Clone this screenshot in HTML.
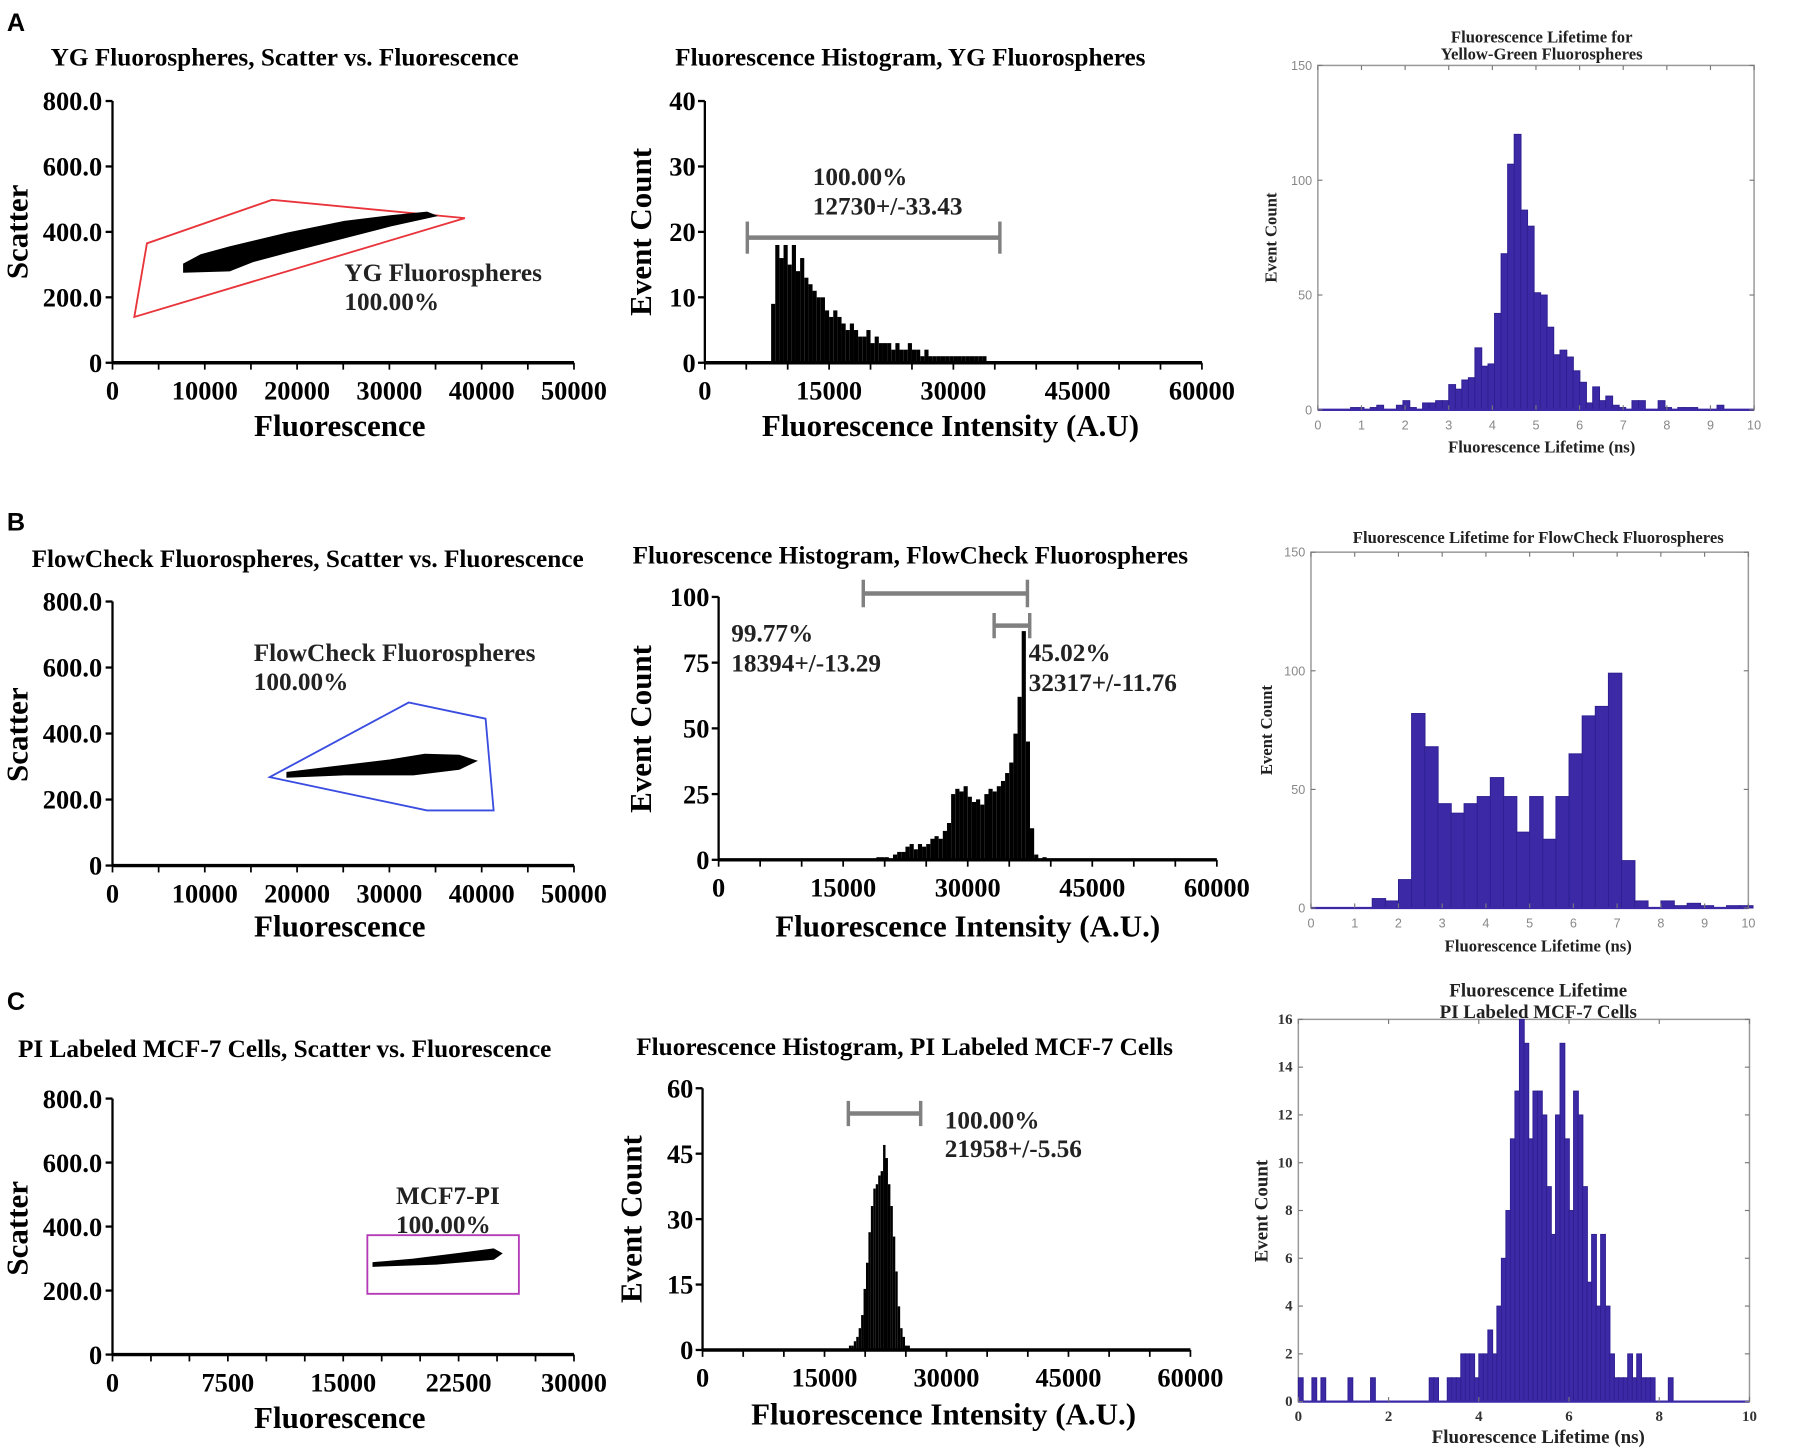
<!DOCTYPE html>
<html><head><meta charset="utf-8"><style>
html,body{margin:0;padding:0;background:#fff;}
svg{display:block;}
</style></head><body>
<svg id="fig" xmlns="http://www.w3.org/2000/svg" width="1800" height="1451" viewBox="0 0 1568 1264" preserveAspectRatio="none"></svg>
<script>
// ---------- DATA ----------
const cloudAx=[7711,9577,12687,18905,25124,30100,34080,35075,30100,25124,18905,15174,12687,7711];
const cloudAy=[302,330,354,396,432,449,460,449,418,382,337,309,281,277];
const gateAx=[2363,3731,17289,38184];
const gateAy=[140,365,498,442];
const histAStart=8000, histAWidth=500;
const histAVals=[9,18,16,18,15,18,14,16,13,12,11,10,10,8,7,8,7,6,5,6,5,4,4,5,3,4,3,3,3,2,3,2,2,3,2,2,1,2,1,1,1,1,1,1,1,1,1,1,1,1,1,1];
const lifeAStart=0.75, lifeAWidth=0.15;
const lifeAVals=[1,1,0,1,2,0,0,2,4,1,0,3,3,4,4,11,9,13,14,27,19,20,42,68,107,120,87,80,51,50,36,24,26,23,17,12,3,10,4,6,2,1,0,4,4,0,0,4,1,0,1,1,1,0,0,0,2,0];
const cloudBx=[18905,23881,30100,33831,37562,39428,37562,32587,25124,18905];
const cloudBy=[282,299,320,337,334,317,292,275,275,268];
const gateBx=[17040,32090,40423,41294,34080];
const gateBy=[268,494,445,167,167];
const histBStart=19000, histBWidth=500;
const histBVals=[1,1,1,0,2,3,3,5,6,4,6,5,6,8,9,8,11,14,25,27,26,28,24,22,23,21,25,27,26,28,30,33,37,48,62,87,45,12,2,0,1];
const lifeBStart=0.2, lifeBWidth=0.3;
const lifeBVals=[0,0,0,0,4,3,12,82,68,44,40,44,47,55,47,32,47,29,47,65,81,85,99,20,3,0,3,1,2,1,0,1,1];
const cloudCx=[16940,19552,22537,24776,25299,24776,21045,16940];
const cloudCy=[287,298,316,330,316,298,283,276];
const gateCx=[16567,26418];
const gateCy=[190,373];
const histCStart=18000, histCWidth=300;
const histCVals=[1,1,2,3,5,8,14,20,27,33,37,38,40,41,47,44,38,33,26,18,10,5,3,1,1];
const lifeCStart=0, lifeCWidth=0.1;
const lifeCVals=[1,0,0,1,0,1,0,0,0,0,0,1,0,0,0,0,1,0,0,0,0,0,0,0,0,0,0,0,0,1,1,0,0,1,1,1,2,2,2,1,2,2,3,2,4,6,8,11,13,16,15,11,13,13,12,9,7,12,15,11,8,13,12,9,5,7,4,7,4,2,1,1,1,2,1,2,1,1,1,0,0,0,1];
const scatYLabels=["0","200.0","400.0","600.0","800.0"];
const scatYVals=[0,200,400,600,800];
const scatABXTicks=[0,10000,20000,30000,40000,50000];
const scatCXTicks=[0,7500,15000,22500,30000];
const histXTicks=[0,15000,30000,45000,60000];
const histAYTicks=[0,10,20,30,40];
const histBYTicks=[0,25,50,75,100];
const histCYTicks=[0,15,30,45,60];
const lifeABXTicks=[0,1,2,3,4,5,6,7,8,9,10];
const lifeABYTicks=[0,50,100,150];
const lifeCXTicks=[0,2,4,6,8,10];
const lifeCYTicks=[0,2,4,6,8,10,12,14,16];

// ---------- DRAW ----------
const NS="http://www.w3.org/2000/svg";
const fig=document.getElementById('fig');
const SERIF='"Liberation Serif", serif', SANS='"Liberation Sans", sans-serif';
const BLUE='#3b29a6';
function mk(tag,attrs,name,parent){
  const el=document.createElementNS(NS,tag);
  for(const k in attrs) el.setAttribute(k,attrs[k]);
  
  
  (parent||fig).appendChild(el);
  return el;
}
function txt(x,y,s,size,name,o){
  o=o||{};
  const a={x:x,y:y,'font-size':size,'font-family':o.fam||SERIF,'font-weight':o.w||'bold',fill:o.fill||'#000','text-anchor':o.anchor||'start'};
  if(o.rot) a.transform='rotate(-90 '+x+' '+y+')';
  const t=mk('text',a,name,o.parent);
  t.textContent=s;
  return t;
}
function lin(x1,y1,x2,y2,stroke,w,name,g){return mk('line',{x1:x1,y1:y1,x2:x2,y2:y2,stroke:stroke,'stroke-width':w},name,g);}
function scale(d0,d1,p0,p1){return v=>p0+(v-d0)/(d1-d0)*(p1-p0);}

function scatterPanel(c){
  const g=mk('g',{},c.id);
  const sx=scale(0,c.xmax,c.x0,c.x1), sy=scale(0,800,c.yb,c.yt);
  txt(c.tx,c.ty,c.title,22,'scatter-title',{anchor:'middle',parent:g});
  lin(c.x0,c.yt,c.x0,c.yb,'#000',2,'y-axis-line',g);
  lin(c.x0,c.yb,c.x1,c.yb,'#000',3,'x-axis-line',g);
  scatYVals.forEach((v,i)=>{
    lin(c.x0-6,sy(v),c.x0,sy(v),'#000',2,'y-tick',g);
    txt(c.x0-9,sy(v)+8,scatYLabels[i],23,'y-tick-label',{anchor:'end',parent:g});
  });
  for(let v=0;v<=c.xmax;v+=c.minor) lin(sx(v),c.yb,sx(v),c.yb+6,'#000',1.5,'x-tick',g);
  c.xt.forEach(v=>txt(sx(v),c.yb+32,String(v),23,'x-tick-label',{anchor:'middle',parent:g}));
  txt(c.xlx,c.xly,'Fluorescence',27,'x-axis-title',{anchor:'middle',parent:g});
  txt(c.ylx,c.yly,'Scatter',27,'y-axis-title',{anchor:'middle',rot:true,parent:g});
  let pts;
  if(c.rect){ pts=[[c.gx[0],c.gy[0]],[c.gx[1],c.gy[0]],[c.gx[1],c.gy[1]],[c.gx[0],c.gy[1]]]; }
  else pts=c.gx.map((v,i)=>[v,c.gy[i]]);
  mk('polygon',{points:pts.map(p=>sx(p[0])+','+sy(p[1])).join(' '),fill:'none',stroke:c.gateColor,'stroke-width':1.6},'gate-polygon',g);
  mk('polygon',{points:c.cx.map((v,i)=>sx(v)+','+sy(c.cy[i])).join(' '),fill:'#000',stroke:'#000','stroke-width':1},'scatter-cloud',g);
  txt(c.lbx,c.lby,c.lab1,22,'gate-label',{parent:g,fill:'#222'});
  txt(c.lbx,c.lby+25,'100.00%',22,'gate-percent',{parent:g,fill:'#222'});
}
function histPanel(c){
  const g=mk('g',{},c.id);
  const sx=scale(0,60000,c.x0,c.x1), sy=scale(0,c.ymax,c.yb,c.yt);
  txt(c.tx,c.ty,c.title,22,'histogram-title',{anchor:'middle',parent:g});
  c.vals.forEach((v,i)=>{
    const xa=sx(c.start+i*c.width), xb=sx(c.start+(i+1)*c.width);
    mk('rect',{x:xa,y:sy(v),width:Math.max(xb-xa,0.5),height:c.yb-sy(v),fill:'#000'},'histogram-bar',g);
  });
  lin(c.x0,c.yt,c.x0,c.yb,'#000',2,'y-axis-line',g);
  lin(c.x0,c.yb,c.x1,c.yb,'#000',3,'x-axis-line',g);
  c.yticks.forEach(v=>{
    lin(c.x0-6,sy(v),c.x0,sy(v),'#000',2,'y-tick',g);
    txt(c.x0-8,sy(v)+8,String(v),23,'y-tick-label',{anchor:'end',parent:g});
  });
  for(let v=0;v<=60000;v+=5000) lin(sx(v),c.yb,sx(v),c.yb+6,'#000',1.5,'x-tick',g);
  histXTicks.forEach(v=>txt(sx(v),c.yb+32,String(v),23,'x-tick-label',{anchor:'middle',parent:g}));
  txt(c.xlx,c.xly,c.xlabel,27,'x-axis-title',{anchor:'middle',parent:g});
  txt(c.ylx,c.yly,'Event Count',27,'y-axis-title',{anchor:'middle',rot:true,parent:g});
  c.gates.forEach(gt=>{
    lin(gt[0],gt[2],gt[1],gt[2],'#808080',4,'gate-bar',g);
    lin(gt[0],gt[2]-gt[3],gt[0],gt[2]+gt[3],'#808080',3,'gate-end',g);
    lin(gt[1],gt[2]-gt[3],gt[1],gt[2]+gt[3],'#808080',3,'gate-end',g);
  });
  c.labels.forEach(l=>txt(l[0],l[1],l[2],22,'gate-stat-label',{parent:g,fill:'#222'}));
}
function lifePanel(c){
  const g=mk('g',{},c.id);
  const sx=scale(0,c.xmax,c.x0,c.x1), sy=scale(0,c.ymax,c.yb,c.yt);
  mk('rect',{x:c.x0,y:c.yt,width:c.x1-c.x0,height:c.yb-c.yt,fill:'#fff',stroke:'#999','stroke-width':1.3},'plot-frame',g);
  c.vals.forEach((v,i)=>{
    if(v<=0) return;
    const xa=sx(c.start+i*c.width), xb=sx(c.start+(i+1)*c.width);
    mk('rect',{x:xa,y:sy(v),width:xb-xa+0.3,height:c.yb-sy(v),fill:BLUE,stroke:'#2d1f90','stroke-width':0.8},'lifetime-bar',g);
  });
  lin(c.x0,c.yb,c.x1,c.yb,BLUE,2,'baseline',g);
  const tf=c.boldTicks?{fam:SERIF,w:'bold',fill:'#333'}:{fam:SANS,w:'normal',fill:'#888'};
  c.xt.forEach(v=>{
    lin(sx(v),c.yb,sx(v),c.yb-4,'#777',1,'x-tick',g);
    lin(sx(v),c.yt,sx(v),c.yt+4,'#777',1,'x-tick-top',g);
    txt(sx(v),c.yb+17,String(v),c.ts,'x-tick-label',Object.assign({anchor:'middle',parent:g},tf));
  });
  c.yt2.forEach(v=>{
    lin(c.x0,sy(v),c.x0+4,sy(v),'#777',1,'y-tick',g);
    lin(c.x1,sy(v),c.x1-4,sy(v),'#777',1,'y-tick-right',g);
    txt(c.x0-5,sy(v)+4,String(v),c.ts,'y-tick-label',Object.assign({anchor:'end',parent:g},tf));
  });
  c.titles.forEach(t=>txt(t[0],t[1],t[2],c.fs,'lifetime-title',{anchor:'middle',parent:g,fill:'#222'}));
  txt(c.xlx,c.xly,'Fluorescence Lifetime (ns)',c.fs,'x-axis-title',{anchor:'middle',parent:g,fill:'#222'});
  txt(c.ylx,c.yly,'Event Count',c.fs,'y-axis-title',{anchor:'middle',rot:true,parent:g,fill:'#222'});
}

txt(6,27,'A',22,'panel-label-a',{fam:SANS});
txt(6,462,'B',22,'panel-label-b',{fam:SANS});
txt(6,880,'C',22,'panel-label-c',{fam:SANS});

scatterPanel({id:'scatter-a',x0:98,x1:500,yt:88,yb:316,xmax:50000,minor:5000,xt:scatABXTicks,tx:248,ty:57,title:'YG Fluorospheres, Scatter vs. Fluorescence',
  xlx:296,xly:380,ylx:24,yly:202,gx:gateAx,gy:gateAy,gateColor:'#e8343a',cx:cloudAx,cy:cloudAy,lab1:'YG Fluorospheres',lbx:300,lby:245});
scatterPanel({id:'scatter-b',x0:98,x1:500,yt:524,yb:754,xmax:50000,minor:5000,xt:scatABXTicks,tx:268,ty:494,title:'FlowCheck Fluorospheres, Scatter vs. Fluorescence',
  xlx:296,xly:816,ylx:24,yly:640,gx:gateBx,gy:gateBy,gateColor:'#3a4de0',cx:cloudBx,cy:cloudBy,lab1:'FlowCheck Fluorospheres',lbx:221,lby:576});
scatterPanel({id:'scatter-c',x0:98,x1:500,yt:957,yb:1180,xmax:30000,minor:2500,xt:scatCXTicks,tx:248,ty:921,title:'PI Labeled MCF-7 Cells, Scatter vs. Fluorescence',
  xlx:296,xly:1244,ylx:24,yly:1070,gx:gateCx,gy:gateCy,rect:true,gateColor:'#b43ab8',cx:cloudCx,cy:cloudCy,lab1:'MCF7-PI',lbx:345,lby:1049});

histPanel({id:'histogram-a',x0:614,x1:1047,yt:88,yb:316,ymax:40,yticks:histAYTicks,start:histAStart,width:histAWidth,vals:histAVals,
  tx:793,ty:57,title:'Fluorescence Histogram, YG Fluorospheres',xlabel:'Fluorescence Intensity (A.U)',xlx:828,xly:380,ylx:567,yly:202,
  gates:[[651,871,207,14]],labels:[[708,161,'100.00%'],[708,187,'12730+/-33.43']]});
histPanel({id:'histogram-b',x0:626,x1:1060,yt:520,yb:749,ymax:100,yticks:histBYTicks,start:histBStart,width:histBWidth,vals:histBVals,
  tx:793,ty:491,title:'Fluorescence Histogram, FlowCheck Fluorospheres',xlabel:'Fluorescence Intensity (A.U.)',xlx:843,xly:816,ylx:567,yly:635,
  gates:[[752,895,517,12],[866,897,545,11]],labels:[[637,559,'99.77%'],[637,585,'18394+/-13.29'],[896,576,'45.02%'],[896,602,'32317+/-11.76']]});
histPanel({id:'histogram-c',x0:612,x1:1037,yt:948,yb:1176,ymax:60,yticks:histCYTicks,start:histCStart,width:histCWidth,vals:histCVals,
  tx:788,ty:919,title:'Fluorescence Histogram, PI Labeled MCF-7 Cells',xlabel:'Fluorescence Intensity (A.U.)',xlx:822,xly:1241,ylx:559,yly:1062,
  gates:[[739,802,970,11]],labels:[[823,983,'100.00%'],[823,1008,'21958+/-5.56']]});

lifePanel({id:'lifetime-a',x0:1148,x1:1528,yt:57,yb:357,xmax:10,ymax:150,xt:lifeABXTicks,yt2:lifeABYTicks,start:lifeAStart,width:lifeAWidth,vals:lifeAVals,
  ts:11,fs:14.5,titles:[[1343,37,'Fluorescence Lifetime for'],[1343,52,'Yellow-Green Fluorospheres']],xlx:1343,xly:394,ylx:1112,yly:207});
lifePanel({id:'lifetime-b',x0:1142,x1:1523,yt:481,yb:791,xmax:10,ymax:150,xt:lifeABXTicks,yt2:lifeABYTicks,start:lifeBStart,width:lifeBWidth,vals:lifeBVals,
  ts:11,fs:14.5,titles:[[1340,473,'Fluorescence Lifetime for FlowCheck Fluorospheres']],xlx:1340,xly:829,ylx:1108,yly:636});
lifePanel({id:'lifetime-c',x0:1131,x1:1524,yt:888,yb:1221,xmax:10,ymax:16,xt:lifeCXTicks,yt2:lifeCYTicks,start:lifeCStart,width:lifeCWidth,vals:lifeCVals,
  ts:13,fs:16.5,boldTicks:true,titles:[[1340,868,'Fluorescence Lifetime'],[1340,887,'PI Labeled MCF-7 Cells']],xlx:1340,xly:1257,ylx:1104,yly:1055});
</script>
</body></html>
